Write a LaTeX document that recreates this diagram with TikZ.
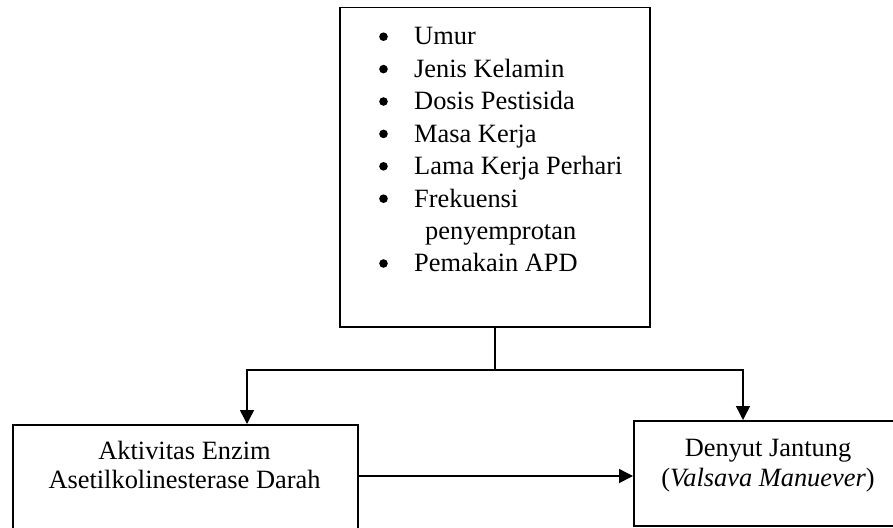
\documentclass[tikz,border=0pt]{standalone}
\usepackage{fontspec}
\setmainfont{Liberation Serif}
\usetikzlibrary{arrows.meta}
\begin{document}
\begin{tikzpicture}[x=1pt,y=-1pt,
  box/.style={draw, line width=1.5pt, inner sep=0pt, anchor=north west},
  conn/.style={line width=1.5pt},
  arr/.style={line width=1.5pt, -{Triangle[length=14pt,width=14pt]}},
  txt/.style={inner sep=0pt, font=\fontsize{26.4}{32.4}\selectfont},
  item/.style={txt, anchor=base west},
  dot/.style={fill=black}]
\useasboundingbox (0,0) rectangle (893,527);
% boxes
\node[box, minimum width=310pt, minimum height=319pt] (top) at (339,7) {};
\node[box, minimum width=345pt, minimum height=120pt] (left) at (12,424) {};
\node[box, minimum width=270pt, minimum height=105pt] (right) at (633,420) {};
% list
\foreach \t [count=\i from 0] in {Umur,Jenis Kelamin,Dosis Pestisida,Masa Kerja,Lama Kerja Perhari,Frekuensi}{
  \node[item] (it\i) at (414,45+32.4*\i) {\t};
  \fill[dot] (383.5,45+32.4*\i-8.3) circle (4.3pt);
}
\node[item] (it6) at (425,45+32.4*6) {penyemprotan};
\node[item] (it7) at (414,45+32.4*7) {Pemakain APD};
\fill[dot] (383.5,45+32.4*7-8.3) circle (4.3pt);
% box texts
\node[txt, anchor=base] (l1) at (184.5,459) {Aktivitas Enzim};
\node[txt, anchor=base] (l2) at (184.5,488.5) {Asetilkolinesterase Darah};
\node[txt, anchor=base] (r1) at (768,456) {Denyut Jantung};
\node[txt, anchor=base] (r2) at (768,486) {(\textit{Valsava Manuever})};
% connectors
\coordinate (j) at (top.south |- 0,370);
\coordinate (la) at (247,424);
\coordinate (ra) at (743,420);
\draw[conn] (top.south) -- (j);
\draw[arr] (j) -| (la);
\draw[arr] (j) -| (ra);
\draw[arr] (left.east |- 0,476) -- (right.west |- 0,476);
\end{tikzpicture}
\end{document}
